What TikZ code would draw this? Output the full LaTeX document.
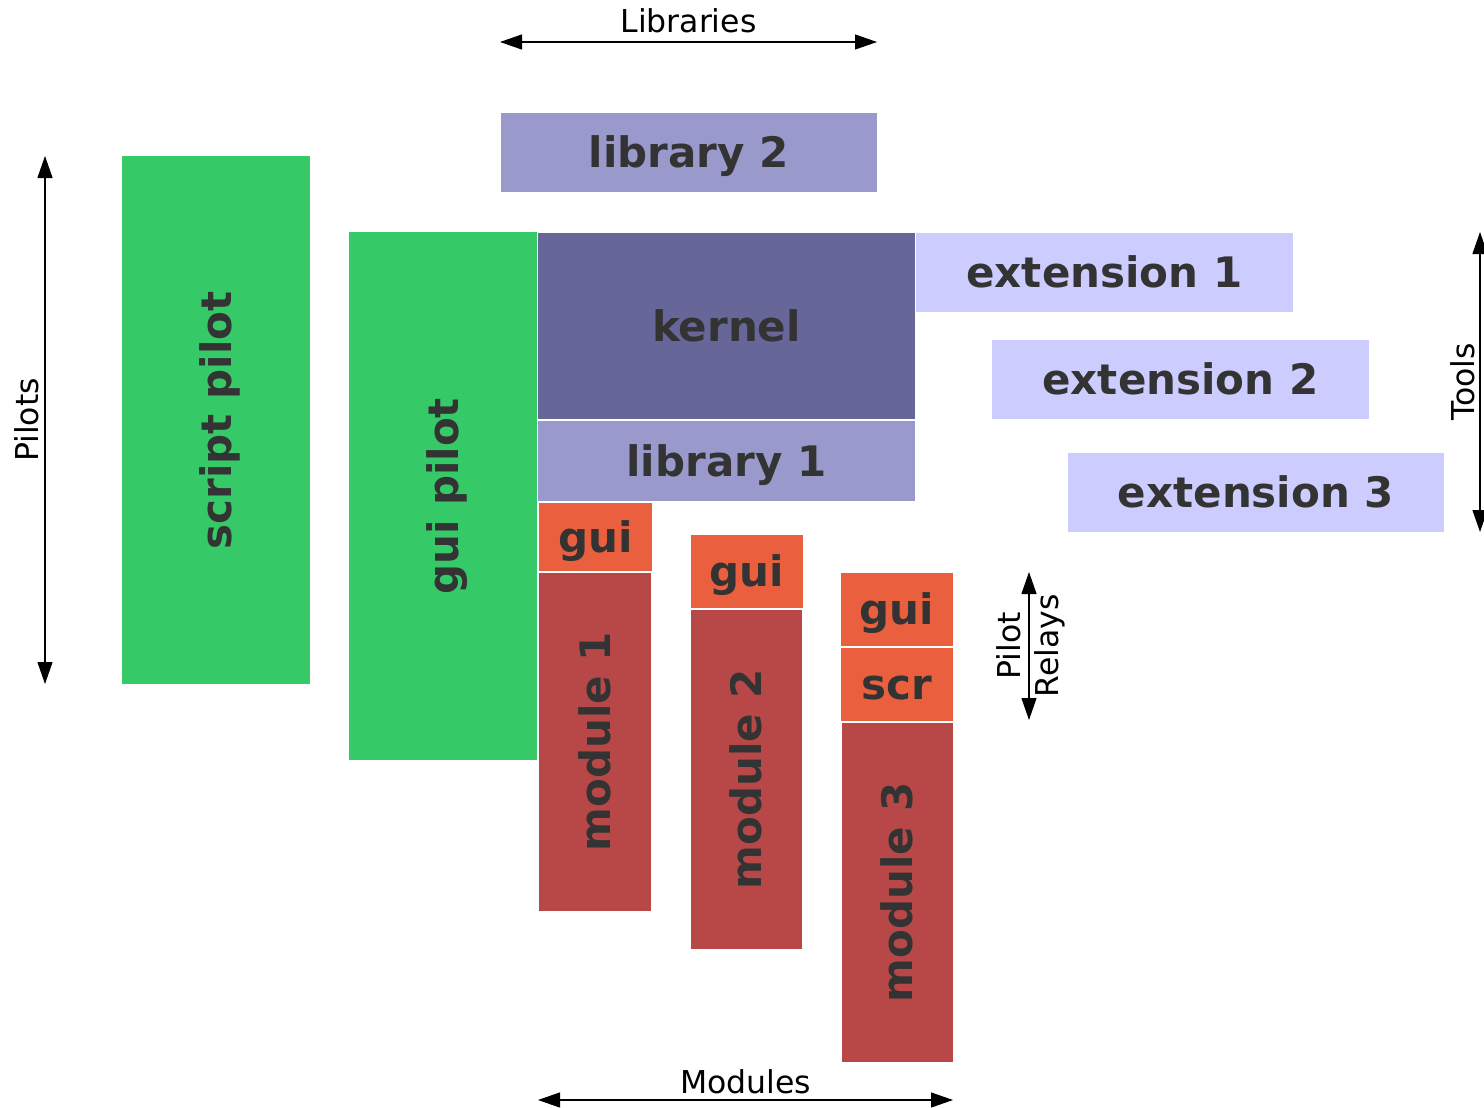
\documentclass[tikz,border=0pt]{standalone}
\usepackage{fontspec}
\setmainfont{DejaVu Sans}
\usetikzlibrary{arrows.meta}
\definecolor{pgreen}{HTML}{36C968}
\definecolor{kern}{HTML}{666699}
\definecolor{libc}{HTML}{9999CC}
\definecolor{extc}{HTML}{CCCCFF}
\definecolor{guic}{HTML}{EA603F}
\definecolor{modc}{HTML}{B84848}
\definecolor{txt}{HTML}{333333}
\begin{document}
\begin{tikzpicture}[x=1pt,y=-1pt,
  box/.style={draw=white, line width=0.8pt, inner sep=0pt, anchor=north west,
    text=txt, font=\bfseries\fontsize{42}{50}\selectfont, text height=31pt, text depth=0pt},
  lbl/.style={inner sep=0pt, text=txt, font=\bfseries\fontsize{42}{50}\selectfont, text height=31pt, text depth=0pt},
  dimlbl/.style={inner sep=0pt, text=black, font=\fontsize{31.5}{38}\selectfont},
  dim/.style={{Triangle[length=22pt,width=15pt]}-{Triangle[length=22pt,width=15pt]}, line width=1.1pt, black}]
\useasboundingbox (0,0) rectangle (1484,1108);
% boxes
\node[box, fill=libc, minimum width=377, minimum height=80] (lib2) at (500,112) {library 2};
\node[box, fill=pgreen, draw=none, minimum width=188, minimum height=528] (sp) at (122,156) {};
\node[lbl, rotate=90] at (sp.center) {script pilot};
\node[box, fill=pgreen, draw=none, minimum width=188, minimum height=528] (gp) at (349,232) {};
\node[lbl, rotate=90] at (gp.center) {gui pilot};
\node[box, fill=kern, minimum width=378, minimum height=187] (kernel) at (537,232) {kernel};
\node[box, fill=libc, minimum width=378, minimum height=81] (lib1) at (537,420) {library 1};
\node[box, fill=extc, minimum width=378, minimum height=80] (ext1) at (915,232) {extension 1};
\node[box, fill=extc, minimum width=378, minimum height=80] (ext2) at (991,339) {extension 2};
\node[box, fill=extc, minimum width=377, minimum height=80] (ext3) at (1067,452) {extension 3};
% modules
\node[box, fill=guic, minimum width=114, minimum height=69] (gui1) at (538,502) {gui};
\node[box, fill=modc, minimum width=113, minimum height=339] (m1) at (538,572) {};
\node[lbl, rotate=90] at (m1.center) {module 1};
\node[box, fill=guic, minimum width=113, minimum height=74] (gui2) at (690,534) {gui};
\node[box, fill=modc, minimum width=112, minimum height=340] (m2) at (690,609) {};
\node[lbl, rotate=90] at (m2.center) {module 2};
\node[box, fill=guic, minimum width=113, minimum height=74] (gui3) at (840,572) {gui};
\node[box, fill=guic, minimum width=113, minimum height=74] (scr3) at (840,647) {scr};
\node[box, fill=modc, minimum width=112, minimum height=340] (m3) at (841,722) {};
\node[lbl, rotate=90] at (m3.center) {module 3};
% dimension arrows
\coordinate (libL) at (500,42); \coordinate (libR) at (877,42);
\draw[dim] (libL) -- (libR);
\node[dimlbl, anchor=base] (libt) at (688.5,33) {Libraries};
\coordinate (pilT) at (45,156); \coordinate (pilB) at (45,684);
\draw[dim] (pilT) -- (pilB);
\node[dimlbl, rotate=90, anchor=base] (pilt) at (38,420) {Pilots};
\coordinate (toT) at (1480,232); \coordinate (toB) at (1480,532);
\draw[dim] (toT) -- (toB);
\node[dimlbl, rotate=90, anchor=base] (tot) at (1474,382) {Tools};
\coordinate (prT) at (1029,572); \coordinate (prB) at (1029,720);
\draw[dim] (prT) -- (prB);
\node[dimlbl, rotate=90, align=center] (prt) at (1031,646) {Pilot\\Relays};
\coordinate (moL) at (538,1100); \coordinate (moR) at (953,1100);
\draw[dim] (moL) -- (moR);
\node[dimlbl, anchor=base] (mot) at (745.5,1093) {Modules};
\end{tikzpicture}
\end{document}
